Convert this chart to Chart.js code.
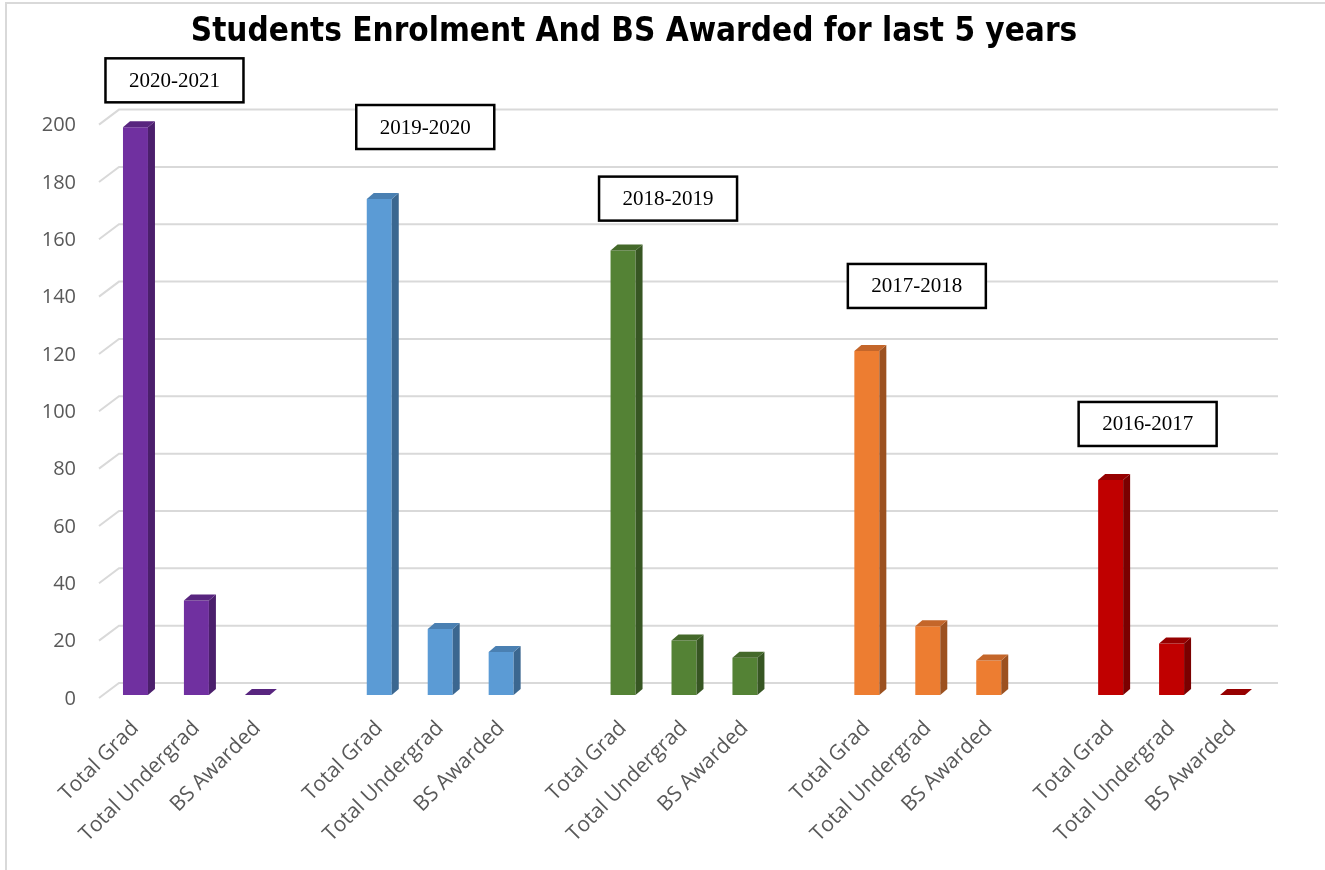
<!DOCTYPE html>
<html>
<head>
<meta charset="utf-8">
<script src="https://cdn.jsdelivr.net/npm/chart.js@4"></script>
<style>
  html, body { margin: 0; padding: 0; background: #fff; }
  #wrap { position: absolute; left: 0; top: 0; width: 1325px; height: 870px; }
  #frame { position: absolute; left: 5px; top: 2px; right: 0; bottom: 0; border-left: 2px solid #d9d9d9; border-top: 2px solid #d9d9d9; pointer-events: none; }
</style>
</head>
<body>
<div id="wrap">
  <canvas id="myChart" width="1325" height="870"></canvas>
  <div id="frame"></div>
</div>
<script>
const years = ["2020-2021", "2019-2020", "2018-2019", "2017-2018", "2016-2017"];
const categories = ["Total Grad", "Total Undergrad", "BS Awarded"];
const totalGrad = [198, 173, 155, 120, 75];
const totalUndergrad = [33, 23, 19, 24, 18];
const bsAwarded = [0, 15, 13, 12, 0];

// colours per year group: front face, side, top
const faceColors = ["#7030A0", "#5B9BD5", "#548235", "#ED7D31", "#C00000"];
const sideColors = ["#4B1F6C", "#3B6790", "#375623", "#9C5120", "#7A0000"];
const topColors = ["#58257F", "#4A80B2", "#44692A", "#C4662A", "#960000"];

// one slot per bar, an empty slot between groups
let labels = [], values = [], groupOf = [];
years.forEach((yr, g) => {
  const vals = [totalGrad[g], totalUndergrad[g], bsAwarded[g]];
  categories.forEach((c, i) => {
    labels.push(c);
    values.push(vals[i]);
    groupOf.push(g);
  });
  if (g < years.length - 1) {
    labels.push("");
    values.push(null);
    groupOf.push(g);
  }
});

const DX = 7, DY = 6; // 3d depth

const backGrid = {
  id: "backGrid",
  beforeDatasetsDraw(chart) {
    const { ctx, chartArea } = chart;
    const y = chart.scales.y;
    ctx.save();
    ctx.strokeStyle = "#d9d9d9";
    ctx.lineWidth = 2;
    y.ticks.forEach(t => {
      const py = y.getPixelForValue(t.value);
      ctx.beginPath();
      ctx.moveTo(chartArea.left - 6, py + 3);
      ctx.lineTo(chartArea.left + 14, py - 12);
      ctx.lineTo(chartArea.right + 15, py - 12);
      ctx.stroke();
    });
    ctx.restore();
  }
};

const bars3d = {
  id: "bars3d",
  afterDatasetsDraw(chart) {
    const { ctx } = chart;
    const meta = chart.getDatasetMeta(0);
    ctx.save();
    meta.data.forEach((el, i) => {
      if (values[i] === null) return;
      const g = groupOf[i];
      const w = el.width;
      const l = el.x - w / 2, r = el.x + w / 2;
      const top = el.y, base = el.base;
      // side
      ctx.fillStyle = sideColors[g];
      ctx.beginPath();
      ctx.moveTo(r, top);
      ctx.lineTo(r + DX, top - DY);
      ctx.lineTo(r + DX, base - DY);
      ctx.lineTo(r, base);
      ctx.closePath();
      ctx.fill();
      // top
      ctx.fillStyle = topColors[g];
      ctx.beginPath();
      ctx.moveTo(l, top);
      ctx.lineTo(l + DX, top - DY);
      ctx.lineTo(r + DX, top - DY);
      ctx.lineTo(r, top);
      ctx.closePath();
      ctx.fill();
    });
    ctx.restore();
  }
};

// year boxes above each group's first bar
const boxOffsetX = [39, 46, 45, 50, 37];
const boxGap = [19, 44, 24, 37, 28];
const yearBoxes = {
  id: "yearBoxes",
  afterDatasetsDraw(chart) {
    const { ctx } = chart;
    const meta = chart.getDatasetMeta(0);
    ctx.save();
    years.forEach((yr, g) => {
      const el = meta.data[g * 4];
      const cx = el.x + boxOffsetX[g];
      const bottom = el.y - DY - boxGap[g];
      const w = 138, h = 44;
      ctx.fillStyle = "#fff";
      ctx.fillRect(cx - w / 2, bottom - h, w, h);
      ctx.strokeStyle = "#000";
      ctx.lineWidth = 2.5;
      ctx.strokeRect(cx - w / 2, bottom - h, w, h);
      ctx.fillStyle = "#000";
      ctx.font = "21px 'Liberation Serif', serif";
      ctx.textAlign = "center";
      ctx.textBaseline = "middle";
      ctx.fillText(yr, cx, bottom - h / 2 + 1);
    });
    ctx.restore();
  }
};

const ctx = document.getElementById("myChart").getContext("2d");
const myChart = new Chart(ctx, {
  type: "bar",
  data: {
    labels: labels,
    datasets: [{
      data: values,
      backgroundColor: groupOf.map(g => faceColors[g]),
      borderWidth: 0,
      barPercentage: 0.41,
      categoryPercentage: 1.0
    }]
  },
  options: {
    responsive: false,
    animation: false,
    layout: { padding: { left: 5, right: 62, top: 0, bottom: 0 } },
    plugins: {
      legend: { display: false },
      tooltip: { enabled: false },
      title: {
        display: true,
        text: "Students Enrolment And BS Awarded for last 5 years",
        color: "#000",
        font: { family: "'DejaVu Sans Condensed', 'DejaVu Sans'", size: 33, weight: "bold" },
        padding: { top: 13, bottom: 69 }
      }
    },
    scales: {
      x: {
        grid: { display: false },
        border: { display: false },
        ticks: {
          autoSkip: false,
          maxRotation: 45,
          minRotation: 45,
          padding: 13,
          color: "#595959",
          font: { family: "'Open Sans'", size: 21 }
        },
        afterFit: s => { s.height = 175; }
      },
      y: {
        min: 0,
        max: 200,
        grid: { display: false },
        border: { display: false },
        ticks: {
          stepSize: 20,
          padding: 21,
          labelOffset: 4,
          color: "#595959",
          font: { family: "'Open Sans'", size: 20 }
        },
        afterFit: s => { s.width = 100; }
      }
    }
  },
  plugins: [backGrid, bars3d, yearBoxes]
});
</script>
</body>
</html>
